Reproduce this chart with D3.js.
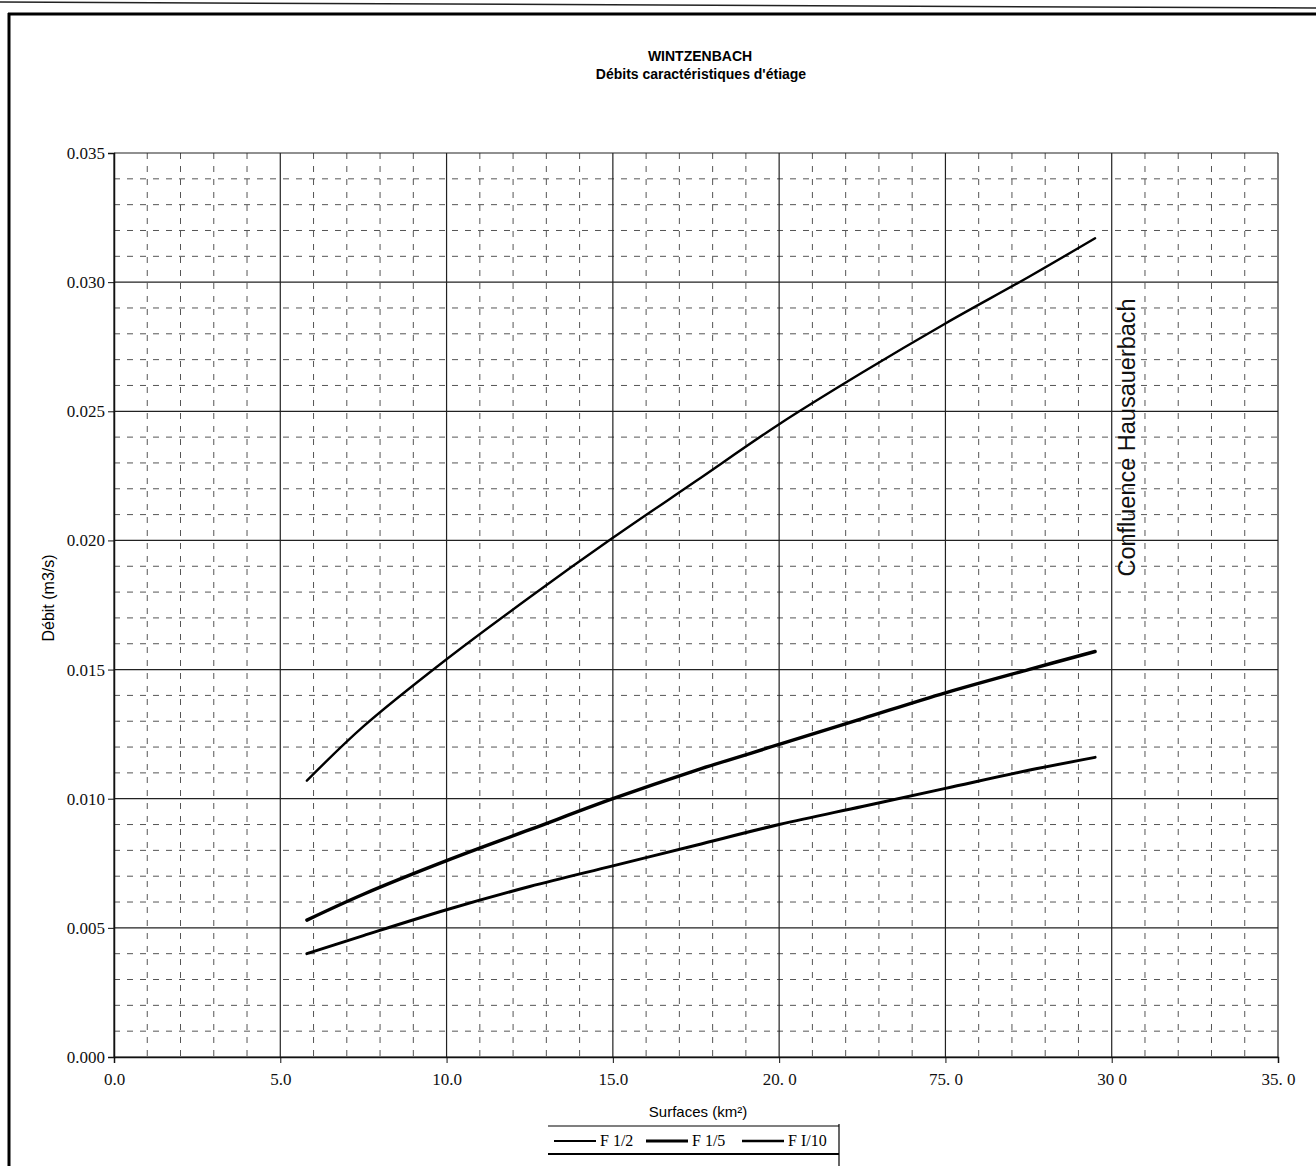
<!DOCTYPE html>
<html lang="fr">
<head>
    <meta charset="UTF-8">
    <title>Wintzenbach - Débits caractéristiques d'étiage</title>
    <script src="https://d3js.org/d3.v7.min.js"></script>
    <style>
        body, html {
            margin: 0;
            background-color: #ffffff;
        }
        svg { display: block; }
        .tick text { font-family: 'Liberation Serif', 'Times New Roman', serif; font-size: 17px; fill: #111; }
        .tick line, .domain { stroke: #111; }
    </style>
</head>
<body>
<svg id="chart"></svg>

<script>
    // surfaces (km²) where the curves were read
    const surfaces = [5.8, 7.5, 10, 12.5, 15, 17.5, 20, 22.5, 25, 27.5, 29.5];
    // débits (m3/s) per frequency
    const f2 = [0.0107, 0.0128, 0.0154, 0.0178, 0.0201, 0.0223, 0.0245, 0.0265, 0.0284, 0.0302, 0.0317];
    const f5 = [0.0053, 0.0063, 0.0076, 0.0088, 0.0100, 0.0111, 0.0121, 0.0131, 0.0141, 0.0150, 0.0157];
    const f10 = [0.0040, 0.0047, 0.0057, 0.0066, 0.0074, 0.0082, 0.0090, 0.0097, 0.0104, 0.0111, 0.0116];

    const seriesNames = ["F 1/2", "F 1/5", "F I/10"];
    const xTicks = [0, 5, 10, 15, 20, 25, 30, 35];
    const xTickLabels = ["0.0", "5.0", "10.0", "15.0", "20. 0", "75. 0", "30 0", "35. 0"];
    const yTicks = [0, 0.005, 0.010, 0.015, 0.020, 0.025, 0.030, 0.035];

    const W = 1316, H = 1166;
    const margin = { top: 153, right: 38, bottom: 109, left: 114 },
        width = W - margin.left - margin.right,
        height = H - margin.top - margin.bottom;

    const root = d3.select("#chart").attr("width", W).attr("height", H);
    root.append("rect").attr("width", W).attr("height", H).attr("fill", "#fff");

    // page frame (scanned report)
    root.append("line").attr("x1", 0).attr("x2", W).attr("y1", 2).attr("y2", 8)
        .attr("stroke", "#222").attr("stroke-width", 1.5);
    root.append("line").attr("x1", 8).attr("x2", W).attr("y1", 14).attr("y2", 14)
        .attr("stroke", "#000").attr("stroke-width", 3);
    root.append("line").attr("x1", 9).attr("x2", 9).attr("y1", 13).attr("y2", H)
        .attr("stroke", "#000").attr("stroke-width", 3);

    const svg = root.append("g").attr("transform", `translate(${margin.left},${margin.top})`);

    const x = d3.scaleLinear().domain([0, 35]).range([0, width]);
    const y = d3.scaleLinear().domain([0, 0.035]).range([height, 0]);

    // minor grid (dashed)
    const xMinor = d3.range(1, 35).filter(v => v % 5 !== 0);
    const yMinor = d3.range(1, 35).filter(v => v % 5 !== 0).map(v => v / 1000);

    svg.append("g").selectAll("line").data(xMinor).join("line")
        .attr("x1", d => x(d)).attr("x2", d => x(d))
        .attr("y1", 0).attr("y2", height)
        .attr("stroke", "#555").attr("stroke-width", 1)
        .attr("stroke-dasharray", "6,7");
    svg.append("g").selectAll("line").data(yMinor).join("line")
        .attr("x1", 0).attr("x2", width)
        .attr("y1", d => y(d)).attr("y2", d => y(d))
        .attr("stroke", "#555").attr("stroke-width", 1)
        .attr("stroke-dasharray", "6,7");

    // major grid (solid)
    svg.append("g").selectAll("line").data(xTicks).join("line")
        .attr("x1", d => x(d)).attr("x2", d => x(d))
        .attr("y1", 0).attr("y2", height)
        .attr("stroke", "#222").attr("stroke-width", 1.2);
    svg.append("g").selectAll("line").data(yTicks).join("line")
        .attr("x1", 0).attr("x2", width)
        .attr("y1", d => y(d)).attr("y2", d => y(d))
        .attr("stroke", "#222").attr("stroke-width", 1.2);

    // axes
    svg.append("g")
        .attr("transform", `translate(0,${height})`)
        .call(d3.axisBottom(x).tickValues(xTicks).tickSize(6).tickPadding(10)
            .tickFormat((d, i) => xTickLabels[i]))
        .call(g => g.select(".domain").attr("stroke-width", 1.5));
    svg.append("g")
        .call(d3.axisLeft(y).tickValues(yTicks).tickSize(6).tickPadding(3)
            .tickFormat(d3.format(".3f")))
        .call(g => g.select(".domain").attr("stroke-width", 1.5));

    // curves
    const seriesValues = [f2, f5, f10];
    const widths = [2.4, 3.4, 3];
    const line = d3.line()
        .x(d => x(d[0]))
        .y(d => y(d[1]))
        .curve(d3.curveCatmullRom.alpha(0.5));

    seriesValues.forEach((vals, i) => {
        svg.append("path")
            .datum(surfaces.map((s, j) => [s, vals[j]]))
            .attr("fill", "none")
            .attr("stroke", "#000")
            .attr("stroke-width", widths[i])
            .attr("stroke-linecap", "round")
            .attr("d", line);
    });

    // vertical annotation
    svg.append("text")
        .attr("transform", `translate(${x(30.7)},${y(0.0186)}) rotate(-90)`)
        .attr("font-family", "Arial, 'Liberation Sans', sans-serif")
        .attr("font-size", 23.5)
        .attr("fill", "#111")
        .text("Confluence Hausauerbach");

    // titles
    root.append("text")
        .attr("x", 700).attr("y", 61)
        .attr("text-anchor", "middle")
        .attr("font-family", "Arial, 'Liberation Sans', sans-serif")
        .attr("font-weight", "bold").attr("font-size", 14)
        .text("WINTZENBACH");
    root.append("text")
        .attr("x", 701).attr("y", 79)
        .attr("text-anchor", "middle")
        .attr("font-family", "Arial, 'Liberation Sans', sans-serif")
        .attr("font-weight", "bold").attr("font-size", 14)
        .text("Débits caractéristiques d'étiage");

    root.append("text")
        .attr("transform", "translate(54,598) rotate(-90)")
        .attr("text-anchor", "middle")
        .attr("font-family", "Arial, 'Liberation Sans', sans-serif")
        .attr("font-size", 16)
        .text("Débit (m3/s)");

    root.append("text")
        .attr("x", 698).attr("y", 1117)
        .attr("text-anchor", "middle")
        .attr("font-family", "Arial, 'Liberation Sans', sans-serif")
        .attr("font-size", 15)
        .text("Surfaces (km²)");

    // legend
    const legend = root.append("g").attr("transform", "translate(548,1126)");
    legend.append("line").attr("x1", 0).attr("x2", 291).attr("y1", 0).attr("y2", 0)
        .attr("stroke", "#000").attr("stroke-width", 1.2);
    legend.append("line").attr("x1", 0).attr("x2", 291).attr("y1", 28).attr("y2", 28)
        .attr("stroke", "#000").attr("stroke-width", 2);
    legend.append("line").attr("x1", 291).attr("x2", 291).attr("y1", -2).attr("y2", 40)
        .attr("stroke", "#000").attr("stroke-width", 1.2);

    const itemX = [6, 98, 194];
    seriesNames.forEach((name, i) => {
        const it = legend.append("g").attr("transform", `translate(${itemX[i]},15)`);
        it.append("line").attr("x1", 0).attr("x2", 42).attr("y1", 0).attr("y2", 0)
            .attr("stroke", "#000").attr("stroke-width", widths[i] - 0.6);
        it.append("text").attr("x", 46).attr("y", 5)
            .attr("font-family", "'Liberation Serif', 'Times New Roman', serif")
            .attr("font-size", 16)
            .text(name);
    });
</script>
</body>
</html>
